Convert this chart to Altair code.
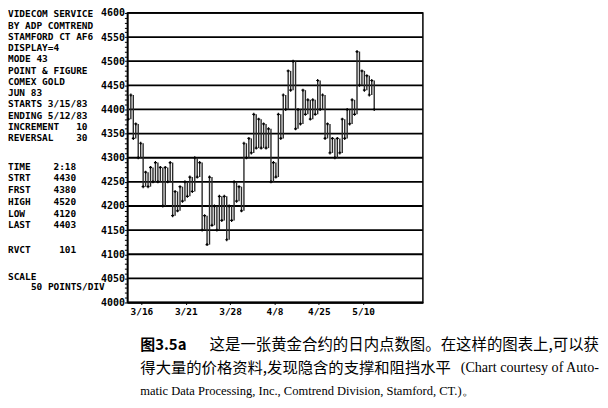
import json
import altair as alt
import pandas as pd

# ---------------- data ----------------
start_price = 4430
# end value of each point & figure column (alternating down / up)
col_end = [
    4380, 4430, 4340, 4370, 4300, 4330, 4240, 4270, 4240, 4280,
    4250, 4290, 4250, 4280, 4200, 4280, 4250, 4290, 4180, 4230,
    4190, 4240, 4210, 4250, 4220, 4260, 4230, 4300, 4260, 4290,
    4150, 4180, 4120, 4260, 4160, 4200, 4150, 4220, 4170, 4220,
    4130, 4200, 4170, 4250, 4210, 4240, 4190, 4330, 4300, 4340,
    4310, 4390, 4320, 4380, 4320, 4370, 4320, 4360, 4250, 4290,
    4260, 4390, 4340, 4430, 4400, 4480, 4440, 4500, 4360, 4400,
    4370, 4440, 4390, 4420, 4380, 4420, 4390, 4460, 4400, 4430,
    4340, 4370, 4310, 4340, 4300, 4340, 4310, 4380, 4340, 4400,
    4370, 4420, 4390, 4520, 4450, 4480, 4440, 4470, 4430, 4460,
    4400,
]
grid_levels = [4000, 4050, 4100, 4150, 4200, 4250, 4300, 4350, 4400, 4450, 4500, 4550, 4600]
minor_ticks = list(range(4000, 4601, 10))
x_tick_labels = ["3/16", "3/21", "3/28", "4/8", "4/25", "5/10"]
x_tick_pos = [5.3, 23.34, 41.38, 59.42, 77.46, 95.5]

NB = "\u00a0"
info_a = [
    "VIDECOM SERVICE",
    "BY ADP COMTREND",
    "STAMFORD CT AF6",
    "DISPLAY=4",
    "MODE 43",
    "POINT & FIGURE",
    "COMEX GOLD",
    "JUN 83",
    "STARTS 3/15/83",
    "ENDING 5/12/83",
    "INCREMENT" + NB * 3 + "10",
    "REVERSAL" + NB * 4 + "30",
]
info_b = [
    "TIME" + NB * 4 + "2:18",
    "STRT" + NB * 4 + "4430",
    "FRST" + NB * 4 + "4380",
    "HIGH" + NB * 4 + "4520",
    "LOW" + NB * 5 + "4120",
    "LAST" + NB * 4 + "4403",
]
info_rvct = "RVCT" + NB * 5 + "101"
info_scale = "SCALE"
info_div = "50 POINTS/DIV"

cap_1a = "图3.5a"
cap_1b = "这是一张黄金合约的日内点数图。在这样的图表上,可以获"
cap_2a = "得大量的价格资料,发现隐含的支撑和阻挡水平"
cap_2b = "(Chart courtesy of Auto-"
cap_3 = "matic Data Processing, Inc., Comtrend Division, Stamford, CT.)。"

# ---------------- build tables ----------------
prev = [start_price] + col_end[:-1]
cols = pd.DataFrame({
    "col": list(range(len(col_end))),
    "lo": [min(a, b) for a, b in zip(prev, col_end)],
    "hi": [max(a, b) for a, b in zip(prev, col_end)],
    "end": col_end,
})
grid_df = pd.DataFrame({"level": grid_levels})
one = pd.DataFrame({"k": [0]})

MONO = "DejaVu Sans Mono"
CJK = "Noto Sans CJK SC"
SERIF = "Liberation Serif"

x_scale = alt.Scale(domain=[-0.405, 119.8], nice=False, zero=False)
y_scale = alt.Scale(domain=[4000, 4600], nice=False, zero=False)

label_expr_x = (
    json.dumps(x_tick_labels)
    + f"[round((datum.value - {x_tick_pos[0]}) / {x_tick_pos[1] - x_tick_pos[0]:.2f})]"
)

x_axis = alt.Axis(
    values=x_tick_pos,
    labelExpr=label_expr_x,
    title=None,
    grid=False,
    labelFont=MONO,
    labelFontWeight="bold",
    labelFontSize=9.5,
    labelColor="black",
    tickSize=2,
    tickColor="black",
    domainColor="black",
    domainWidth=1.5,
    labelPadding=2,
    labelFlush=False,
    labelOverlap=False,
)
y_axis = alt.Axis(
    values=minor_ticks,
    format="d",
    labelExpr="datum.value % 50 == 0 ? datum.label : ''",
    title=None,
    grid=False,
    labelFont=MONO,
    labelFontWeight="bold",
    labelFontSize=10,
    labelColor="black",
    tickSize=3,
    tickColor="black",
    domainColor="black",
    domainWidth=1.5,
    labelPadding=0,
    labelOverlap=False,
    labelFlush=False,
)

grid = alt.Chart(grid_df).mark_rule(color="black", strokeWidth=1.8).encode(
    y=alt.Y("level:Q", scale=y_scale, axis=y_axis),
)

bars = alt.Chart(cols).mark_rule(color="#2a2a2a", strokeWidth=1.4).encode(
    x=alt.X("col:Q", scale=x_scale, axis=x_axis),
    y=alt.Y("lo:Q", scale=y_scale, axis=y_axis),
    y2="hi:Q",
)

ends = alt.Chart(cols).mark_point(shape="cross", filled=True, size=9, color="black", opacity=1).encode(
    x=alt.X("col:Q", scale=x_scale, axis=x_axis),
    y=alt.Y("end:Q", scale=y_scale, axis=y_axis),
)


def txt(text, x, y, font=MONO, size=9.5, weight="bold", align="left", line_height=11.3, baseline="alphabetic"):
    return alt.Chart(one).mark_text(
        align=align,
        baseline=baseline,
        font=font,
        fontSize=size,
        fontWeight=weight,
        lineHeight=line_height,
        color="black",
    ).encode(x=alt.value(x), y=alt.value(y), text=alt.value(text))


# plot area origin is at page (128, 12)
texts = [
    txt(info_a, -120, 4.5),
    txt(info_b, -120, 157.5, line_height=11.8),
    txt(info_rvct, -120, 241.5),
    txt(info_scale, -120, 268),
    txt(info_div, -97, 278.5),
    txt(cap_1a, 13, 334, font=CJK, size=15, weight="bold", baseline="middle"),
    txt(cap_1b, 474, 334, font=CJK, size=15.5, weight="normal", align="right", baseline="middle"),
    txt(cap_2a, 13, 357, font=CJK, size=15.4, weight="normal", baseline="middle"),
    txt(cap_2b, 474, 357, font=SERIF, size=14.2, weight="normal", align="right", baseline="middle"),
    txt(cap_3, 13, 380, font=SERIF, size=12.6, weight="normal", baseline="middle"),
]

chart = alt.layer(grid, bars, ends, *texts).properties(
    width=297,
    height=291,
    padding={"left": 120, "top": 4, "right": 178, "bottom": 97},
    autosize=alt.AutoSizeParams(type="none"),
    background="white",
).configure_view(stroke="black", strokeWidth=1.5)

chart.save("out.html", embed_options={"renderer": "svg", "actions": False})
